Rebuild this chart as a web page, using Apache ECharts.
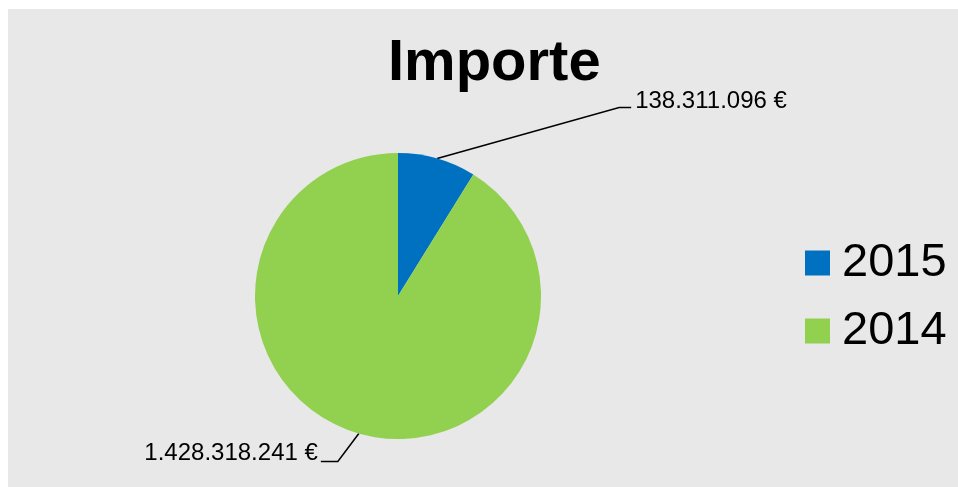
<!DOCTYPE html>
<html>
<head>
<meta charset="utf-8">
<script src="https://cdn.jsdelivr.net/npm/echarts@6/dist/echarts.min.js"></script>
<style>
  html, body { margin: 0; padding: 0; background: #fff; }
  #chart { width: 958px; height: 487px; }
</style>
</head>
<body>
<div id="chart"></div>
<script>
// datos
const years = ['2015', '2014']
const importes = [138311096, 1428318241]
const colores = ['#0070c0', '#92d050']

// 1428318241 -> "1.428.318.241 €"
function formatEuro(v) {
  return String(v).replace(/\B(?=(\d{3})+(?!\d))/g, '.') + ' €'
}

// desplazamiento de las lineas guía desde el borde del sector
const guias = [
  { codo: [182, -51], tramo: 12, gap: 4, align: 'left', dy: -6 },
  { codo: [-21, 28], tramo: -17, gap: -3, align: 'right', dy: -8 }
]

const chart = echarts.init(document.getElementById('chart'))

chart.setOption({
  backgroundColor: 'transparent',
  animation: false,
  graphic: [
    {
      type: 'rect',
      z: -10,
      silent: true,
      shape: { x: 8, y: 9, width: 950, height: 478 },
      style: { fill: '#e8e8e8' }
    }
  ],
  title: {
    text: 'Importe',
    left: 383,
    top: 30,
    textStyle: {
      fontFamily: 'Liberation Sans, Arial, sans-serif',
      fontSize: 58,
      fontWeight: 'bold',
      color: '#000'
    }
  },
  legend: {
    orient: 'vertical',
    left: 800,
    top: 234,
    icon: 'rect',
    itemWidth: 25,
    itemHeight: 25,
    itemGap: 20,
    data: years,
    textStyle: {
      fontFamily: 'Liberation Sans, Arial, sans-serif',
      fontSize: 47,
      lineHeight: 48,
      color: '#000',
      padding: [0, 0, 0, 7]
    }
  },
  series: [
    {
      type: 'pie',
      center: [398, 296],
      radius: 143,
      startAngle: 90,
      clockwise: true,
      data: years.map((y, i) => ({
        name: y,
        value: importes[i],
        itemStyle: { color: colores[i] }
      })),
      label: {
        show: true,
        formatter: (p) => formatEuro(p.value),
        fontFamily: 'Liberation Sans, Arial, sans-serif',
        fontSize: 24,
        color: '#000'
      },
      labelLine: {
        show: true,
        length: 20,
        length2: 10,
        lineStyle: { color: '#000', width: 1.5 }
      },
      labelLayout: function (p) {
        const g = guias[p.dataIndex]
        const pts = p.labelLinePoints
        if (!g || !pts) return {}
        const s = pts[0]
        const m = [s[0] + g.codo[0], s[1] + g.codo[1]]
        const e = [m[0] + g.tramo, m[1]]
        return {
          x: e[0] + g.gap,
          y: e[1] + g.dy,
          align: g.align,
          verticalAlign: 'middle',
          labelLinePoints: [s, m, e]
        }
      }
    }
  ]
})
</script>
</body>
</html>
